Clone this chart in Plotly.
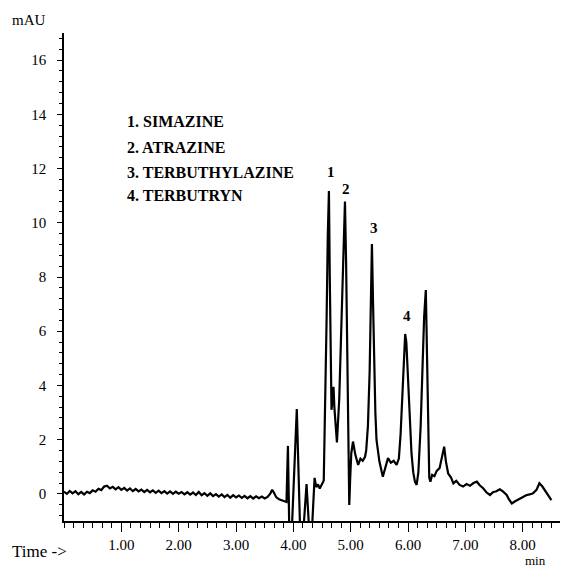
import plotly.graph_objects as go

# Retention time (min) and detector response (mAU) of the chromatogram
time_min = [
    0.00, 0.05, 0.10, 0.15, 0.20, 0.25, 0.30, 0.35, 0.40, 0.45,
    0.50, 0.55, 0.60, 0.65, 0.70, 0.75, 0.80, 0.85, 0.90, 0.95,
    1.00, 1.05, 1.10, 1.15, 1.20, 1.25, 1.30, 1.35, 1.40, 1.45,
    1.50, 1.55, 1.60, 1.65, 1.70, 1.75, 1.80, 1.85, 1.90, 1.95,
    2.00, 2.05, 2.10, 2.15, 2.20, 2.25, 2.30, 2.35, 2.40, 2.45,
    2.50, 2.55, 2.60, 2.65, 2.70, 2.75, 2.80, 2.85, 2.90, 2.95,
    3.00, 3.05, 3.10, 3.15, 3.20, 3.25, 3.30, 3.35, 3.40, 3.45,
    3.50, 3.55, 3.60, 3.63, 3.66, 3.70, 3.75, 3.80, 3.85, 3.88,
    3.905, 3.93, 3.97, 4.06, 4.12, 4.17, 4.23, 4.28, 4.32, 4.37,
    4.40, 4.43, 4.46, 4.49, 4.52, 4.53, 4.555, 4.58, 4.60, 4.62,
    4.635, 4.65, 4.665, 4.685, 4.70, 4.715, 4.74, 4.76, 4.80, 4.84,
    4.87, 4.90, 4.92, 4.94, 4.96, 4.975, 4.99, 5.01, 5.04, 5.08,
    5.13, 5.17, 5.21, 5.25, 5.27, 5.30, 5.33, 5.35, 5.37, 5.39,
    5.41, 5.43, 5.45, 5.50, 5.56, 5.60, 5.65, 5.70, 5.75, 5.80,
    5.84, 5.87, 5.90, 5.93, 5.95, 5.97, 6.00, 6.03, 6.06, 6.09,
    6.12, 6.15, 6.18, 6.22, 6.25, 6.28, 6.31, 6.33, 6.35, 6.37,
    6.39, 6.42, 6.46, 6.50, 6.55, 6.59, 6.63, 6.66, 6.70, 6.75,
    6.79, 6.84, 6.90, 6.96, 7.02, 7.08, 7.14, 7.20, 7.25, 7.31,
    7.37, 7.43, 7.48, 7.54, 7.60, 7.66, 7.72, 7.76, 7.81, 7.86,
    7.91, 7.96, 8.01, 8.06, 8.12, 8.18, 8.24, 8.29, 8.34, 8.40,
    8.45, 8.50,
]
absorbance_mau = [
    0.08, 0.00, 0.11, 0.02, 0.10, -0.01, 0.07, -0.02, 0.08, 0.03,
    0.13, 0.08, 0.19, 0.14, 0.27, 0.30, 0.20, 0.26, 0.17, 0.25,
    0.15, 0.22, 0.12, 0.20, 0.10, 0.18, 0.09, 0.16, 0.07, 0.15,
    0.06, 0.13, 0.04, 0.12, 0.03, 0.10, 0.01, 0.09, 0.00, 0.08,
    0.01, 0.07, -0.02, 0.06, -0.03, 0.05, -0.04, 0.07, -0.05, 0.03,
    -0.07, 0.02, -0.08, -0.01, -0.10, -0.02, -0.12, -0.04, -0.14, -0.05,
    -0.13, -0.06, -0.15, -0.07, -0.16, -0.08, -0.17, -0.09, -0.16, -0.10,
    -0.17, -0.11, 0.02, 0.15, 0.05, -0.12, -0.20, -0.24, -0.30, -0.30,
    1.77, -1.50, -1.50, 3.13, -1.50, -1.50, 0.36, -1.50, -1.50, 0.59,
    0.25, 0.35, 0.20, 0.30, 0.45, 0.50, 3.00, 6.50, 9.50, 11.17,
    8.00, 4.50, 3.10, 3.50, 3.95, 3.20, 2.30, 1.90, 3.50, 6.50,
    9.50, 10.78, 8.50, 4.50, 0.50, -0.41, 0.50, 1.50, 1.93, 1.45,
    1.07, 1.30, 1.22, 1.37, 1.60, 2.50, 4.50, 7.00, 9.22, 7.00,
    4.50, 3.00, 1.99, 1.20, 0.63, 0.90, 1.32, 1.15, 1.22, 1.07,
    1.30, 2.20, 3.80, 5.40, 5.90, 5.60, 4.20, 2.60, 1.50, 0.80,
    0.45, 0.33, 0.80, 2.50, 4.50, 6.50, 7.52, 5.50, 2.50, 0.60,
    0.45, 0.70, 0.65, 0.85, 0.95, 1.30, 1.74, 1.20, 0.75, 0.60,
    0.39, 0.48, 0.33, 0.27, 0.36, 0.30, 0.40, 0.45, 0.32, 0.21,
    0.05, -0.04, 0.06, 0.10, 0.17, 0.08, -0.04, -0.20, -0.35, -0.28,
    -0.22, -0.15, -0.10, -0.05, -0.02, 0.02, 0.15, 0.39, 0.28, 0.10,
    -0.08, -0.23,
]

# Peak numbering and compound key
peak_numbers = ["1", "2", "3", "4"]
peak_times = [4.66, 4.91, 5.41, 5.98]
peak_label_heights = [11.87, 11.25, 9.81, 6.57]
compounds = ["1. SIMAZINE", "2. ATRAZINE", "3. TERBUTHYLAZINE", "4. TERBUTRYN"]

x_tick_values = [1, 2, 3, 4, 5, 6, 7, 8]
x_tick_text = ["1.00", "2.00", "3.00", "4.00", "5.00", "6.00", "7.00", "8.00"]
y_tick_values = [0, 2, 4, 6, 8, 10, 12, 14, 16]

SERIF = "Liberation Serif"

# Page and plot-area geometry in pixels
L, R, T, B = 64, 3, 33, 46
W, H = 563, 567
pw, ph = W - L - R, H - T - B


def px_to_paper(px, py):
    return (px - L) / pw, (H - B - py) / ph


fig = go.Figure()
fig.add_trace(go.Scatter(
    x=time_min, y=absorbance_mau, mode="lines",
    line=dict(color="black", width=2.2),
    hoverinfo="skip", showlegend=False,
))

# Peak numbers above the peaks
for label, t, h in zip(peak_numbers, peak_times, peak_label_heights):
    fig.add_annotation(x=t, y=h, xref="x", yref="y", text=f"<b>{label}</b>",
                       showarrow=False, xanchor="center", yanchor="middle",
                       font=dict(family=SERIF, size=15, color="black"))

# Compound key
key_rows = [122, 147, 172, 196]
for name, row in zip(compounds, key_rows):
    kx, ky = px_to_paper(125, row)
    fig.add_annotation(x=kx, y=ky, xref="paper", yref="paper", text=f"<b>{name}</b>",
                       showarrow=False, xanchor="left", yanchor="middle",
                       font=dict(family=SERIF, size=16, color="black"))

# Axis captions (text, centre x, centre y, font size, box height)
captions = [("mAU", 29, 20, 15, None), ("Time ->", 39, 551, 17, None),
            ("min", 535, 560, 13, 12)]
for text, cx, cy, size, box_h in captions:
    ax, ay = px_to_paper(cx, cy)
    fig.add_annotation(x=ax, y=ay, xref="paper", yref="paper", text=text,
                       showarrow=False, xanchor="center", yanchor="middle",
                       height=box_h, borderpad=0,
                       font=dict(family=SERIF, size=size, color="black"))

fig.update_layout(
    width=W, height=H,
    margin=dict(l=L, r=R, t=T, b=B, pad=0),
    paper_bgcolor="white", plot_bgcolor="white",
    font=dict(family=SERIF, size=15, color="black"),
    xaxis=dict(
        range=[0, 8.65], showgrid=False, zeroline=False,
        showline=True, linecolor="black", linewidth=1.5,
        tickmode="array", tickvals=x_tick_values, ticktext=x_tick_text,
        ticks="outside", ticklen=9, tickwidth=1.2, tickcolor="black",
        minor=dict(tickmode="linear", tick0=0, dtick=1 / 6, ticks="outside",
                   ticklen=5, tickwidth=1, tickcolor="black", showgrid=False),
        tickfont=dict(family=SERIF, size=15, color="black"),
    ),
    yaxis=dict(
        range=[-1, 17], showgrid=False, zeroline=False,
        showline=True, linecolor="black", linewidth=1.5,
        tickmode="array", tickvals=y_tick_values,
        ticks="outside", ticklen=5, tickwidth=1.2, tickcolor="black",
        minor=dict(tickmode="linear", tick0=0, dtick=0.4, ticks="outside",
                   ticklen=3, tickwidth=1, tickcolor="black", showgrid=False),
        tickfont=dict(family=SERIF, size=15, color="black"),
        ticklabelstandoff=8,
    ),
)

fig.write_html("out.html")
